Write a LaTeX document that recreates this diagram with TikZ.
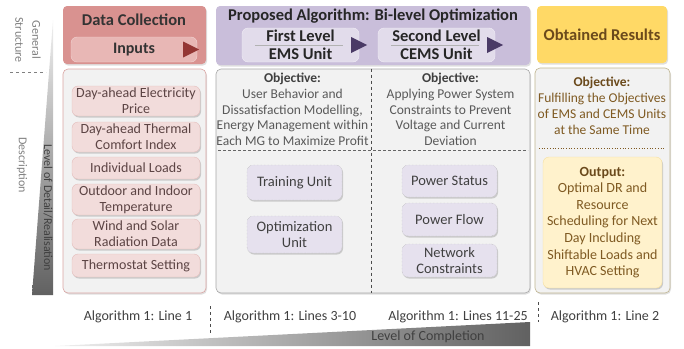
\documentclass[tikz,border=0pt]{standalone}
\usepackage{fontspec}
\setmainfont{Carlito}
\usepackage{xcolor}
\usepackage{tikz}
\usetikzlibrary{shadows}

\definecolor{dcred}{HTML}{D99290}
\definecolor{inpink}{HTML}{E8B7B5}
\definecolor{inrim}{HTML}{F2D4D3}
\definecolor{redtri}{HTML}{943634}
\definecolor{dcrim}{HTML}{D9A3A1}
\definecolor{bodygray}{HTML}{F2F2F2}
\definecolor{itempink}{HTML}{F2DCDB}
\definecolor{itemrim}{HTML}{E3BDBB}
\definecolor{itemtext}{HTML}{5C4444}
\definecolor{algpurple}{HTML}{C9BEDA}
\definecolor{lvlfill}{HTML}{E2DCEB}
\definecolor{lvlrim}{HTML}{F1EEF6}
\definecolor{purtri}{HTML}{4A3A66}
\definecolor{algrim}{HTML}{A6A6A6}
\definecolor{unitfill}{HTML}{E6E1EE}
\definecolor{unitrim}{HTML}{B3B3B3}
\definecolor{resyellow}{HTML}{FFD966}
\definecolor{resrim}{HTML}{BFB48F}
\definecolor{outfill}{HTML}{FFF2CC}
\definecolor{outrim}{HTML}{F5DFA0}
\definecolor{restext}{HTML}{7F5A22}
\definecolor{resdark}{HTML}{6B4A1C}
\definecolor{axistext}{HTML}{7F7F7F}
\definecolor{darktext}{HTML}{404040}
\definecolor{graytext}{HTML}{595959}

\begin{document}
\begin{tikzpicture}[x=1pt, y=-1pt,
    head/.style={rectangle, rounded corners=4pt, inner sep=0pt,
                 drop shadow={shadow xshift=1pt, shadow yshift=-1.5pt, opacity=0.25}},
    body/.style={rectangle, rounded corners=5pt, fill=bodygray, line width=0.6pt, inner sep=0pt,
                 drop shadow={shadow xshift=1pt, shadow yshift=-1.5pt, opacity=0.25}},
    title/.style={font=\fontsize{16.5}{18}\selectfont\bfseries},
    inbox/.style={rectangle, rounded corners=6pt, fill=itempink, draw=itemrim, minimum width=128pt,
                  align=center, inner sep=1pt, text=itemtext, font=\fontsize{14}{16}\selectfont,
                  drop shadow={shadow xshift=1pt, shadow yshift=-1.5pt, opacity=0.35}},
    lvlbox/.style={rectangle, rounded corners=6pt, fill=lvlfill, draw=lvlrim, minimum width=117pt,
                   minimum height=34pt, align=center, inner sep=0pt, text=black!85,
                   font=\fontsize{16.5}{18}\selectfont\bfseries},
    unit/.style={rectangle, rounded corners=6pt, fill=unitfill, draw=unitrim, densely dotted,
                 minimum width=95pt, align=center, inner sep=1pt, text=darktext,
                 font=\fontsize{14.5}{16.5}\selectfont,
                 drop shadow={shadow xshift=1pt, shadow yshift=-1.5pt, opacity=0.35}},
    objtext/.style={anchor=north, align=center, inner sep=1pt, text=graytext,
                    font=\fontsize{13.5}{15.7}\selectfont},
    algtag/.style={text=darktext, font=\fontsize{14}{16}\selectfont},
    axis/.style={rotate=-90, align=center, text=axistext, font=\fontsize{12}{17}\selectfont},
    sep/.style={draw=black!30, line width=0.4pt},
    divide/.style={dashed, draw=black!70, line width=0.5pt}
]
\useasboundingbox (0,0) rectangle (684,348);

\shade[top color=black!6, bottom color=black!62] (53,20) -- (53,295) -- (32,295) -- cycle;
\shade[left color=black!6, right color=black!62] (55,346) -- (530,346) -- (530,322) -- cycle;

\node[axis] (gs) at (28,40) {General\\Structure};
\draw[divide, draw=black!50] (10,72) -- (46,72);
\node[axis] (desc) at (22,165) {Description};
\node[axis, text=darktext] (lod) at (48,208) {Level of Detail/Realisation};

\node[head, fill=dcred, minimum width=143pt, minimum height=58pt] (dc) at (134.5,35) {};
\node[title, text=black!80] (dctitle) at (134,20) {Data Collection};
\node[rectangle, rounded corners=6pt, fill=inpink, draw=inrim, minimum width=126pt, minimum height=25pt,
      inner sep=0pt, font=\fontsize{16}{18}\selectfont\bfseries, text=black!80] (inputs) at (134,49.5) {Inputs};
\fill[redtri] ([xshift=-14pt,yshift=8pt]inputs.east) -- ([xshift=2pt]inputs.east)
    -- ([xshift=-14pt,yshift=-8pt]inputs.east) -- cycle;

\node[head, fill=algpurple, minimum width=314pt, minimum height=59pt] (alg) at (373,35.5) {};
\node[title, text=black!85] (algtitle) at (373,16) {Proposed Algorithm: Bi-level Optimization};
\node[lvlbox] (ems) at (300.5,45) {First Level\\EMS Unit};
\node[lvlbox] (cems) at (436.5,45) {Second Level\\CEMS Unit};
\draw[sep] ([xshift=13pt]ems.west) -- ([xshift=-16pt]ems.east);
\draw[sep] ([xshift=13pt]cems.west) -- ([xshift=-16pt]cems.east);
\fill[purtri] ([xshift=-8pt,yshift=8pt]ems.east) -- ([xshift=8pt]ems.east)
    -- ([xshift=-8pt,yshift=-8pt]ems.east) -- cycle;
\fill[purtri] ([xshift=-8pt,yshift=8pt]cems.east) -- ([xshift=8pt]cems.east)
    -- ([xshift=-8pt,yshift=-8pt]cems.east) -- cycle;

\node[head, fill=resyellow, minimum width=130pt, minimum height=57pt, title, text=resdark]
    (res) at (602,34.5) {Obtained Results};

\node[body, draw=dcrim, minimum width=143pt, minimum height=224pt] (dcbody) at (134.5,181) {};
\node[body, draw=algrim, minimum width=314pt, minimum height=224pt] (algbody) at (373,181) {};
\node[body, draw=resrim, minimum width=135pt, minimum height=225pt] (resbody) at (602.5,180.5) {};

\node[inbox, minimum height=30pt] (elec) at (136,101) {Day-ahead Electricity\\Price};
\node[inbox, minimum height=30pt] (therm) at (136,137) {Day-ahead Thermal\\Comfort Index};
\node[inbox, minimum height=22pt] (loads) at (136,168) {Individual Loads};
\node[inbox, minimum height=31pt] (temp) at (136,199.5) {Outdoor and Indoor\\Temperature};
\node[inbox, minimum height=30pt] (wind) at (136,234) {Wind and Solar\\Radiation Data};
\node[inbox, minimum height=23pt] (thermo) at (136,265.5) {Thermostat Setting};

\draw[divide] ([xshift=-2pt]algbody.north) -- ([xshift=-2pt]algbody.south);
\draw[densely dashed, draw=black!60, line width=0.5pt] (218,150) -- (528,150);
\node[objtext] (objems) at (292.5,72) {\textbf{\color{darktext}Objective:}\\User Behavior and\\
    Dissatisfaction Modelling,\\Energy Management within\\Each MG to Maximize Profit};
\node[objtext] (objcems) at (450.5,72) {\textbf{\color{darktext}Objective:}\\Applying Power System\\
    Constraints to Prevent\\Voltage and Current\\Deviation};
\node[unit, minimum height=35pt] (train) at (294.5,182.5) {Training Unit};
\node[unit, minimum height=37pt] (optim) at (294.5,234.5) {Optimization\\Unit};
\node[unit, minimum height=32pt] (pstat) at (449.5,181) {Power Status};
\node[unit, minimum height=33pt] (pflow) at (449.5,219.5) {Power Flow};
\node[unit, minimum height=33pt] (netcon) at (449.5,260.5) {Network\\Constraints};

\node[objtext, text=restext, font=\fontsize{13.5}{16}\selectfont] (objres) at (602,75.5)
    {\textbf{\color{resdark}Objective:}\\Fulfilling the Objectives\\of EMS and CEMS Units\\at the Same Time};
\draw[dotted, draw=restext, line width=0.7pt] (539,148) -- (665,148);
\node[rectangle, rounded corners=6pt, fill=outfill, draw=outrim, minimum width=119pt, minimum height=131pt,
      align=center, inner sep=1pt, text=restext, font=\fontsize{14}{16.6}\selectfont,
      drop shadow={shadow xshift=1pt, shadow yshift=-1.5pt, opacity=0.35}] (output) at (602.5,222.5)
    {\textbf{\color{resdark}Output:}\\Optimal DR and\\Resource\\Scheduling for Next\\Day Including\\
     Shiftable Loads and\\HVAC Setting};

\node[algtag] (tag1) at (138,317) {Algorithm 1: Line 1};
\node[algtag] (tag2) at (290,317) {Algorithm 1: Lines 3-10};
\node[algtag] (tag3) at (458,317) {Algorithm 1: Lines 11-25};
\node[algtag] (tag4) at (605,317) {Algorithm 1: Line 2};
\draw[divide] (210,306) -- (210,333);
\draw[divide] (538,302) -- (538,322);
\node[algtag] (loc) at (428,337) {Level of Completion};
\end{tikzpicture}
\end{document}
